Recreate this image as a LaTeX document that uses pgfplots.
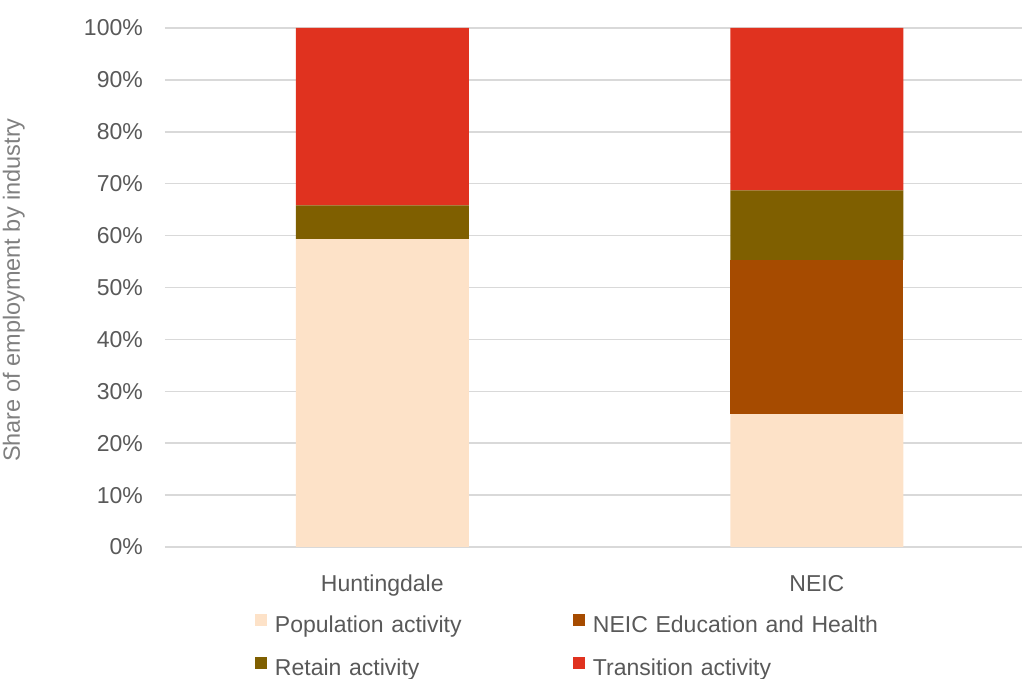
\documentclass[border=0pt]{standalone}
\usepackage{pgfplots}
\pgfplotsset{compat=1.18}
\usepackage{fontspec}
\setmainfont{Liberation Sans}

\definecolor{popc}{HTML}{FDE2C8}
\definecolor{educ}{HTML}{A64B00}
\definecolor{retc}{HTML}{7F5F00}
\definecolor{tranc}{HTML}{E0321F}
\definecolor{gridc}{HTML}{D9D9D9}
\definecolor{textc}{HTML}{595959}
\definecolor{labc}{HTML}{808080}

% Shares of employment (%) by activity type
\pgfplotstableread{
x  pop   edu   ret   tran
0  59.3  0.0   6.5   34.2
1  25.6  29.7  13.4  31.3
}\shares

\begin{document}
\begin{tikzpicture}
\fontsize{23}{27}\selectfont
\path[use as bounding box] (-165pt,-132pt) rectangle (857pt,547pt);
\begin{axis}[
  at={(0pt,0pt)}, anchor=south west,
  scale only axis, width=857pt, height=519pt,
  xmin=-0.5, xmax=1.472, ymin=0, ymax=100,
  ybar stacked, bar width=173pt,
  xtick={0,1}, xticklabels={Huntingdale,NEIC},
  ytick={0,10,...,100},
  yticklabels={0\%,10\%,20\%,30\%,40\%,50\%,60\%,70\%,80\%,90\%,100\%},
  ymajorgrids, grid style={color=gridc, line width=1.5pt},
  axis line style={draw=none}, tick style={draw=none}, major tick length=0pt,
  yticklabel style={anchor=east, inner sep=0pt, xshift=-22pt, text=textc},
  xticklabel style={anchor=base, inner sep=0pt, yshift=-45pt, text=textc},
  ylabel={\fontsize{23.5}{27}\selectfont Share of employment by industry},
  every axis y label/.style={at={(axis description cs:-0.1765,0.495)}, rotate=90, anchor=center, text=labc},
  legend columns=2,
  legend cell align=left,
  legend image code/.code={\fill[#1] (0pt,0pt) rectangle (12pt,12pt);},
  legend style={draw=none, fill=none, inner sep=0pt, outer sep=0pt,
    at={(axis description cs:0.105,-0.129)}, anchor=north west,
    row sep=21pt,
    nodes={text=textc, inner sep=0pt, text width=290pt, align=left},
    /tikz/every odd column/.append style={column sep=8pt},
    /tikz/every even column/.append style={column sep=8pt}},
]
\addplot[fill=popc, draw=none] table[x=x, y=pop] {\shares};
\addlegendentry{Population activity}
\addplot[fill=educ, draw=none] table[x=x, y=edu] {\shares};
\addlegendentry{NEIC Education and Health}
\addplot[fill=retc, draw=none] table[x=x, y=ret] {\shares};
\addlegendentry{Retain activity}
\addplot[fill=tranc, draw=none] table[x=x, y=tran] {\shares};
\addlegendentry{Transition activity}
\end{axis}
\end{tikzpicture}
\end{document}
